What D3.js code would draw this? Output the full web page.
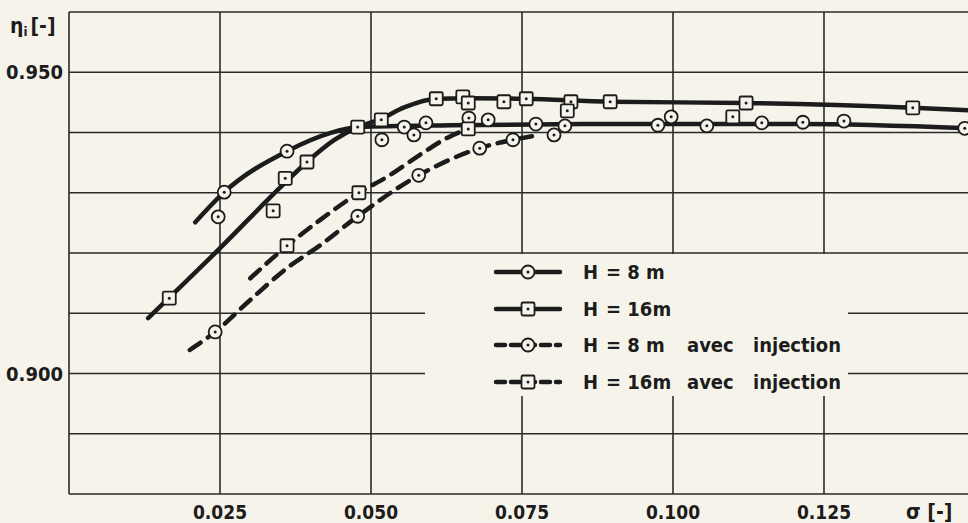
<!DOCTYPE html>
<html>
<head>
<meta charset="utf-8">
<script src="https://d3js.org/d3.v7.min.js"></script>
<style>
  html, body { margin: 0; padding: 0; background: #f6f4ea; }
  svg { display: block; }
  text { font-family: "DejaVu Sans Condensed", "DejaVu Sans", sans-serif; font-weight: bold; fill: #1c1c1c; }
</style>
</head>
<body>
<div id="chart"></div>
<script>
// sigma values of gridlines and labelled ticks
var xGrid = [0.025, 0.050, 0.075, 0.100, 0.125];
var xLabels = ["0.025", "0.050", "0.075", "0.100", "0.125"];
var yGrid = [0.890, 0.900, 0.910, 0.920, 0.930, 0.940, 0.950];
var yLabelVals = [0.950, 0.900];
var yLabels = ["0.950", "0.900"];

// H = 8 m : curve and measured points
var h8Curve = [[0.0209,0.9251],[0.0257,0.9301],[0.0361,0.9369],[0.0432,0.9399],[0.0480,0.9409],
  [0.0631,0.9412],[0.0879,0.9414],[0.1210,0.9414],[0.1490,0.9407]];
var h8Pts = [[0.0247,0.9260],[0.0257,0.9301],[0.0361,0.9369],[0.0518,0.9388],[0.0555,0.9409],
  [0.0571,0.9396],[0.0591,0.9416],[0.0662,0.9424],[0.0694,0.9421],[0.0773,0.9414],[0.0821,0.9411],
  [0.0975,0.9412],[0.0997,0.9426],[0.1056,0.9411],[0.1147,0.9416],[0.1215,0.9417],[0.1283,0.9419],[0.1483,0.9407]];

// H = 16 m
var h16Curve = [[0.0131,0.9092],[0.0250,0.9208],[0.0354,0.9313],[0.0394,0.9351],[0.0440,0.9388],
  [0.0478,0.9409],[0.0515,0.9422],[0.0556,0.9442],[0.0608,0.9456],[0.0664,0.9457],[0.0757,0.9456],
  [0.0896,0.9451],[0.1121,0.9449],[0.1397,0.9441],[0.1490,0.9437]];
var h16Pts = [[0.0166,0.9125],[0.0338,0.9270],[0.0358,0.9324],[0.0394,0.9351],[0.0478,0.9409],
  [0.0517,0.9421],[0.0608,0.9456],[0.0652,0.9459],[0.0661,0.9449],[0.0720,0.9451],[0.0757,0.9456],
  [0.0831,0.9451],[0.0896,0.9451],[0.1121,0.9449],[0.1397,0.9441]];

// H = 8 m avec injection
var h8InjCurve = [[0.0200,0.9039],[0.0242,0.9069],[0.0300,0.9122],[0.0361,0.9175],[0.0416,0.9213],
  [0.0478,0.9261],[0.0579,0.9329],[0.0680,0.9374],[0.0735,0.9388],[0.0780,0.9396]];
var h8InjPts = [[0.0242,0.9069],[0.0478,0.9261],[0.0579,0.9329],[0.0680,0.9374],[0.0735,0.9388],[0.0803,0.9396]];

// H = 16 m avec injection
var h16InjCurve = [[0.0300,0.9158],[0.0361,0.9212],[0.0416,0.9255],[0.0480,0.9300],[0.0531,0.9329],
  [0.0581,0.9363],[0.0626,0.9391],[0.0661,0.9406]];
var h16InjPts = [[0.0361,0.9212],[0.0480,0.9300],[0.0661,0.9406],[0.0825,0.9436],[0.1099,0.9426]];

var legendLabels = [["H", "= 8 m", "", ""], ["H", "= 16m", "", ""],
  ["H", "= 8 m", "avec", "injection"], ["H", "= 16m", "avec", "injection"]];

var W = 968, H = 523;
var plotLeft = 69, plotTop = 12, plotBottom = 494;

var x = d3.scaleLinear().domain([0, 0.150]).range([plotLeft, plotLeft + 906]);
var y = d3.scaleLinear().domain([0.880, 0.960]).range([plotBottom, plotTop]);

var svg = d3.select("#chart").append("svg").attr("width", W).attr("height", H);

svg.append("clipPath").attr("id", "clip")
  .append("rect").attr("x", plotLeft).attr("y", plotTop - 2)
  .attr("width", W - plotLeft).attr("height", plotBottom - plotTop + 4);

var ink = "#1c1c1c";
var paper = "#f6f4ea";

// grid
var grid = svg.append("g").attr("stroke", "#2a2a2a").attr("stroke-width", 1.6);
grid.selectAll(".gx").data(xGrid).enter().append("line")
  .attr("x1", d => x(d)).attr("x2", d => x(d)).attr("y1", plotTop).attr("y2", plotBottom);
grid.selectAll(".gy").data(yGrid).enter().append("line")
  .attr("x1", plotLeft).attr("x2", W).attr("y1", d => y(d)).attr("y2", d => y(d));
// frame
grid.append("line").attr("x1", plotLeft).attr("x2", W).attr("y1", y(0.960)).attr("y2", y(0.960));
grid.append("line").attr("x1", plotLeft).attr("x2", W).attr("y1", y(0.880)).attr("y2", y(0.880));
grid.append("line").attr("x1", plotLeft).attr("x2", plotLeft).attr("y1", plotTop).attr("y2", plotBottom);

// legend patch hides the grid below the 0.920 line
svg.append("rect").attr("x", 425).attr("y", 254).attr("width", 423).attr("height", 142).attr("fill", paper);

// labels
svg.selectAll(".xl").data(xGrid).enter().append("text")
  .attr("x", d => x(d)).attr("y", 519).attr("text-anchor", "middle")
  .attr("font-size", 19)
  .text((d, i) => xLabels[i]);
svg.selectAll(".yl").data(yLabelVals).enter().append("text")
  .attr("x", 63).attr("y", d => y(d) + 7).attr("text-anchor", "end")
  .attr("font-size", 20)
  .text((d, i) => yLabels[i]);
var yt = svg.append("text").attr("x", 10).attr("y", 33).attr("font-size", 21);
yt.append("tspan").text("η");
yt.append("tspan").attr("font-size", 13).attr("dy", 3).text("i");
yt.append("tspan").attr("dy", -3).attr("dx", 3).text("[-]");
svg.append("text").attr("x", 906).attr("y", 519).attr("font-size", 21).text("σ [-]");

var plot = svg.append("g").attr("clip-path", "url(#clip)");
var line = d3.line().x(d => x(d[0])).y(d => y(d[1])).curve(d3.curveMonotoneX);

function drawCurve(data, dashed) {
  plot.append("path").datum(data).attr("d", line)
    .attr("fill", "none").attr("stroke", ink).attr("stroke-width", 4.5)
    .attr("stroke-linecap", "round")
    .attr("stroke-dasharray", dashed ? "13,9" : null);
}
function marker(g, cx, cy, kind) {
  if (kind === "circle") {
    g.append("circle").attr("cx", cx).attr("cy", cy).attr("r", 6.5)
      .attr("fill", paper).attr("stroke", ink).attr("stroke-width", 1.8);
  } else {
    g.append("rect").attr("x", cx - 6.5).attr("y", cy - 6.5).attr("width", 13).attr("height", 13)
      .attr("rx", 1.5).attr("fill", paper).attr("stroke", ink).attr("stroke-width", 1.8);
  }
  g.append("circle").attr("cx", cx).attr("cy", cy).attr("r", 1.5).attr("fill", ink);
}
function drawPts(data, kind) {
  var g = plot.append("g");
  data.forEach(d => marker(g, x(d[0]), y(d[1]), kind));
}

drawCurve(h8Curve, false);
drawCurve(h16Curve, false);
drawCurve(h8InjCurve, true);
drawCurve(h16InjCurve, true);
drawPts(h8Pts, "circle");
drawPts(h16Pts, "square");
drawPts(h8InjPts, "circle");
drawPts(h16InjPts, "square");

// legend
var legY = [272, 309, 345, 382];
var kinds = ["circle", "square", "circle", "square"];
var pos = [583, 606, 687, 753];
var leg = svg.append("g");
legendLabels.forEach(function(lab, i) {
  var ly = legY[i];
  var g = leg.append("g");
  g.append("line").attr("x1", 496).attr("x2", 560).attr("y1", ly).attr("y2", ly)
    .attr("stroke", ink).attr("stroke-width", 4.5).attr("stroke-linecap", "round")
    .attr("stroke-dasharray", i >= 2 ? "9,6" : null);
  marker(g, 528, ly, kinds[i]);
  lab.forEach(function(s, j) {
    if (s) g.append("text").attr("x", pos[j]).attr("y", ly + 7).attr("font-size", 20).text(s);
  });
});
</script>
</body>
</html>
